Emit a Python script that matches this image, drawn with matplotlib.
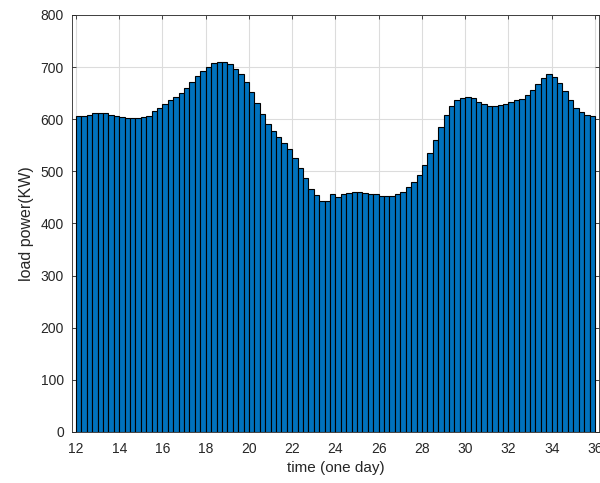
import numpy as np
import matplotlib
matplotlib.use("Agg")
import matplotlib.pyplot as plt

# 15-minute load samples from 12:00 to 36:00 (one day)
t_start = 12
t_step = 0.25
load = [606, 606, 608, 611, 611, 611, 608, 606, 604, 602, 602, 602, 604, 607, 615, 622,
        629, 636, 643, 650, 659, 671, 682, 692, 701, 707, 710, 710, 705, 696, 686, 672,
        652, 632, 610, 591, 578, 566, 554, 543, 526, 506, 487, 467, 455, 444, 444, 456,
        451, 456, 458, 460, 460, 458, 456, 456, 453, 453, 453, 456, 460, 470, 479, 493,
        512, 535, 560, 586, 609, 625, 636, 641, 643, 641, 634, 629, 625, 625, 627, 630,
        634, 637, 639, 646, 656, 668, 679, 686, 681, 669, 655, 636, 622, 614, 609, 606]
xticks = list(range(12, 37, 2))
yticks = list(range(0, 801, 100))

plt.rcParams['font.family'] = ['Liberation Sans', 'DejaVu Sans']

fig = plt.figure(figsize=(6.0, 4.83), dpi=100)
ax = fig.add_axes([0.1205, 0.1056, 0.8775, 0.8634])

t = t_start + t_step * np.arange(len(load))
ax.bar(t, load, width=t_step, align='edge', color='#0072BD',
       edgecolor='black', linewidth=0.8, zorder=2)

ax.set_xlim(11.83, 36.18)
ax.set_ylim(0, 800)
ax.set_xticks(xticks)
ax.set_yticks(yticks)
ax.grid(True, color='#dcdcdc', linewidth=0.8, zorder=0)
ax.set_axisbelow(True)
ax.tick_params(direction='in', length=3, width=0.6, colors='#262626',
               labelsize=10, top=True, right=True)
ax.tick_params(axis='x', pad=7)
ax.tick_params(axis='y', pad=6)
for s in ax.spines.values():
    s.set_color('#262626')
    s.set_linewidth(0.6)

ax.set_xlabel('time (one day)', fontsize=11, color='#262626', labelpad=4)
ax.set_ylabel('load power(KW)', fontsize=11.5, color='#262626', labelpad=5)

fig.savefig('out.png', dpi=100)
